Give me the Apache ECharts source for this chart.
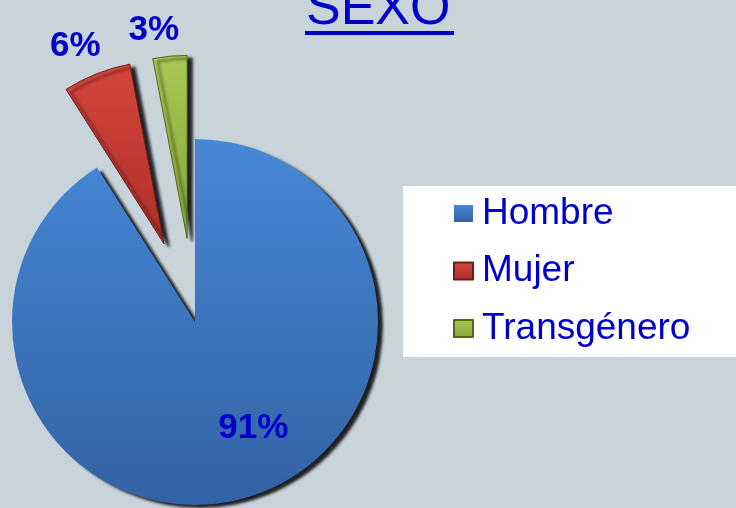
<!DOCTYPE html>
<html>
<head>
<meta charset="utf-8">
<script src="https://cdn.jsdelivr.net/npm/echarts@6/dist/echarts.min.js"></script>
<style>
html, body { margin: 0; padding: 0; background: #c8d3da; }
#main { width: 736px; height: 508px; }
</style>
</head>
<body>
<div id="main"></div>
<script>
var myChart = echarts.init(document.getElementById('main'));

var categories = ['Hombre', 'Mujer', 'Transgénero'];
var values = [91, 6, 3];
var exploded = [false, true, true];

var topColors = ['#4788d6', '#d4463c', '#a8c853'];
var bottomColors = ['#3262a4', '#ae2f2a', '#86a638'];
var borderColors = ['rgba(0,0,0,0)', '#6e1c18', '#4d6a1c'];

var blue = '#0000cc';
var font = 'Liberation Sans, Arial, sans-serif';

var pieData = categories.map(function (name, i) {
    return {
        name: name,
        value: values[i],
        selected: exploded[i],
        itemStyle: {
            color: new echarts.graphic.LinearGradient(0, 0, 0, 1, [
                {offset: 0, color: topColors[i]},
                {offset: 1, color: bottomColors[i]}
            ]),
            borderColor: borderColors[i],
            borderWidth: i === 0 ? 0 : 1
        },
        label: {
            position: i === 0 ? 'inside' : 'outside'
        }
    };
});

var option = {
    backgroundColor: '#c8d3da',
    title: {
        text: 'SEXO',
        left: 306,
        top: -16,
        padding: 0,
        textStyle: {
            color: blue,
            fontFamily: font,
            fontWeight: 'normal',
            fontSize: 52,
            lineHeight: 52
        }
    },
    // subrayado del título
    graphic: [{
        type: 'rect',
        left: 305,
        top: 31,
        shape: {width: 149, height: 4},
        style: {fill: blue}
    }],
    legend: {
        orient: 'vertical',
        left: 403,
        top: 186,
        data: categories,
        backgroundColor: '#ffffff',
        padding: [9, 60, 10, 50],
        itemWidth: 19,
        itemHeight: 17,
        itemGap: 20.5,
        icon: 'rect',
        selectedMode: false,
        textStyle: {
            color: blue,
            fontFamily: font,
            fontSize: 37,
            lineHeight: 37,
            padding: [0, 0, 0, 4]
        }
    },
    series: [{
        name: 'Sexo',
        type: 'pie',
        center: [195, 322],
        radius: 183,
        startAngle: 90,
        clockwise: true,
        selectedMode: 'multiple',
        selectedOffset: 84,
        avoidLabelOverlap: false,
        animation: false,
        data: pieData,
        itemStyle: {
            shadowColor: 'rgba(0,0,0,0.85)',
            shadowBlur: 3,
            shadowOffsetX: 5,
            shadowOffsetY: 3
        },
        label: {
            show: true,
            formatter: '{d}%',
            color: blue,
            fontFamily: font,
            fontWeight: 'bold',
            fontSize: 35
        },
        labelLine: {
            show: false,
            length: 30,
            length2: 0
        },
        labelLayout: function (params) {
            if (params.dataIndex === 0) {
                return {dx: 32, dy: 16};
            }
            if (params.dataIndex === 2) {
                return {dx: 17, dy: 4};
            }
            return {dx: 20};
        },
        emphasis: {disabled: true},
        select: {
            itemStyle: {
                shadowColor: 'rgba(0,0,0,0.85)',
                shadowBlur: 3,
                shadowOffsetX: 5,
                shadowOffsetY: 3
            }
        }
    }]
};

myChart.setOption(option);
</script>
</body>
</html>
